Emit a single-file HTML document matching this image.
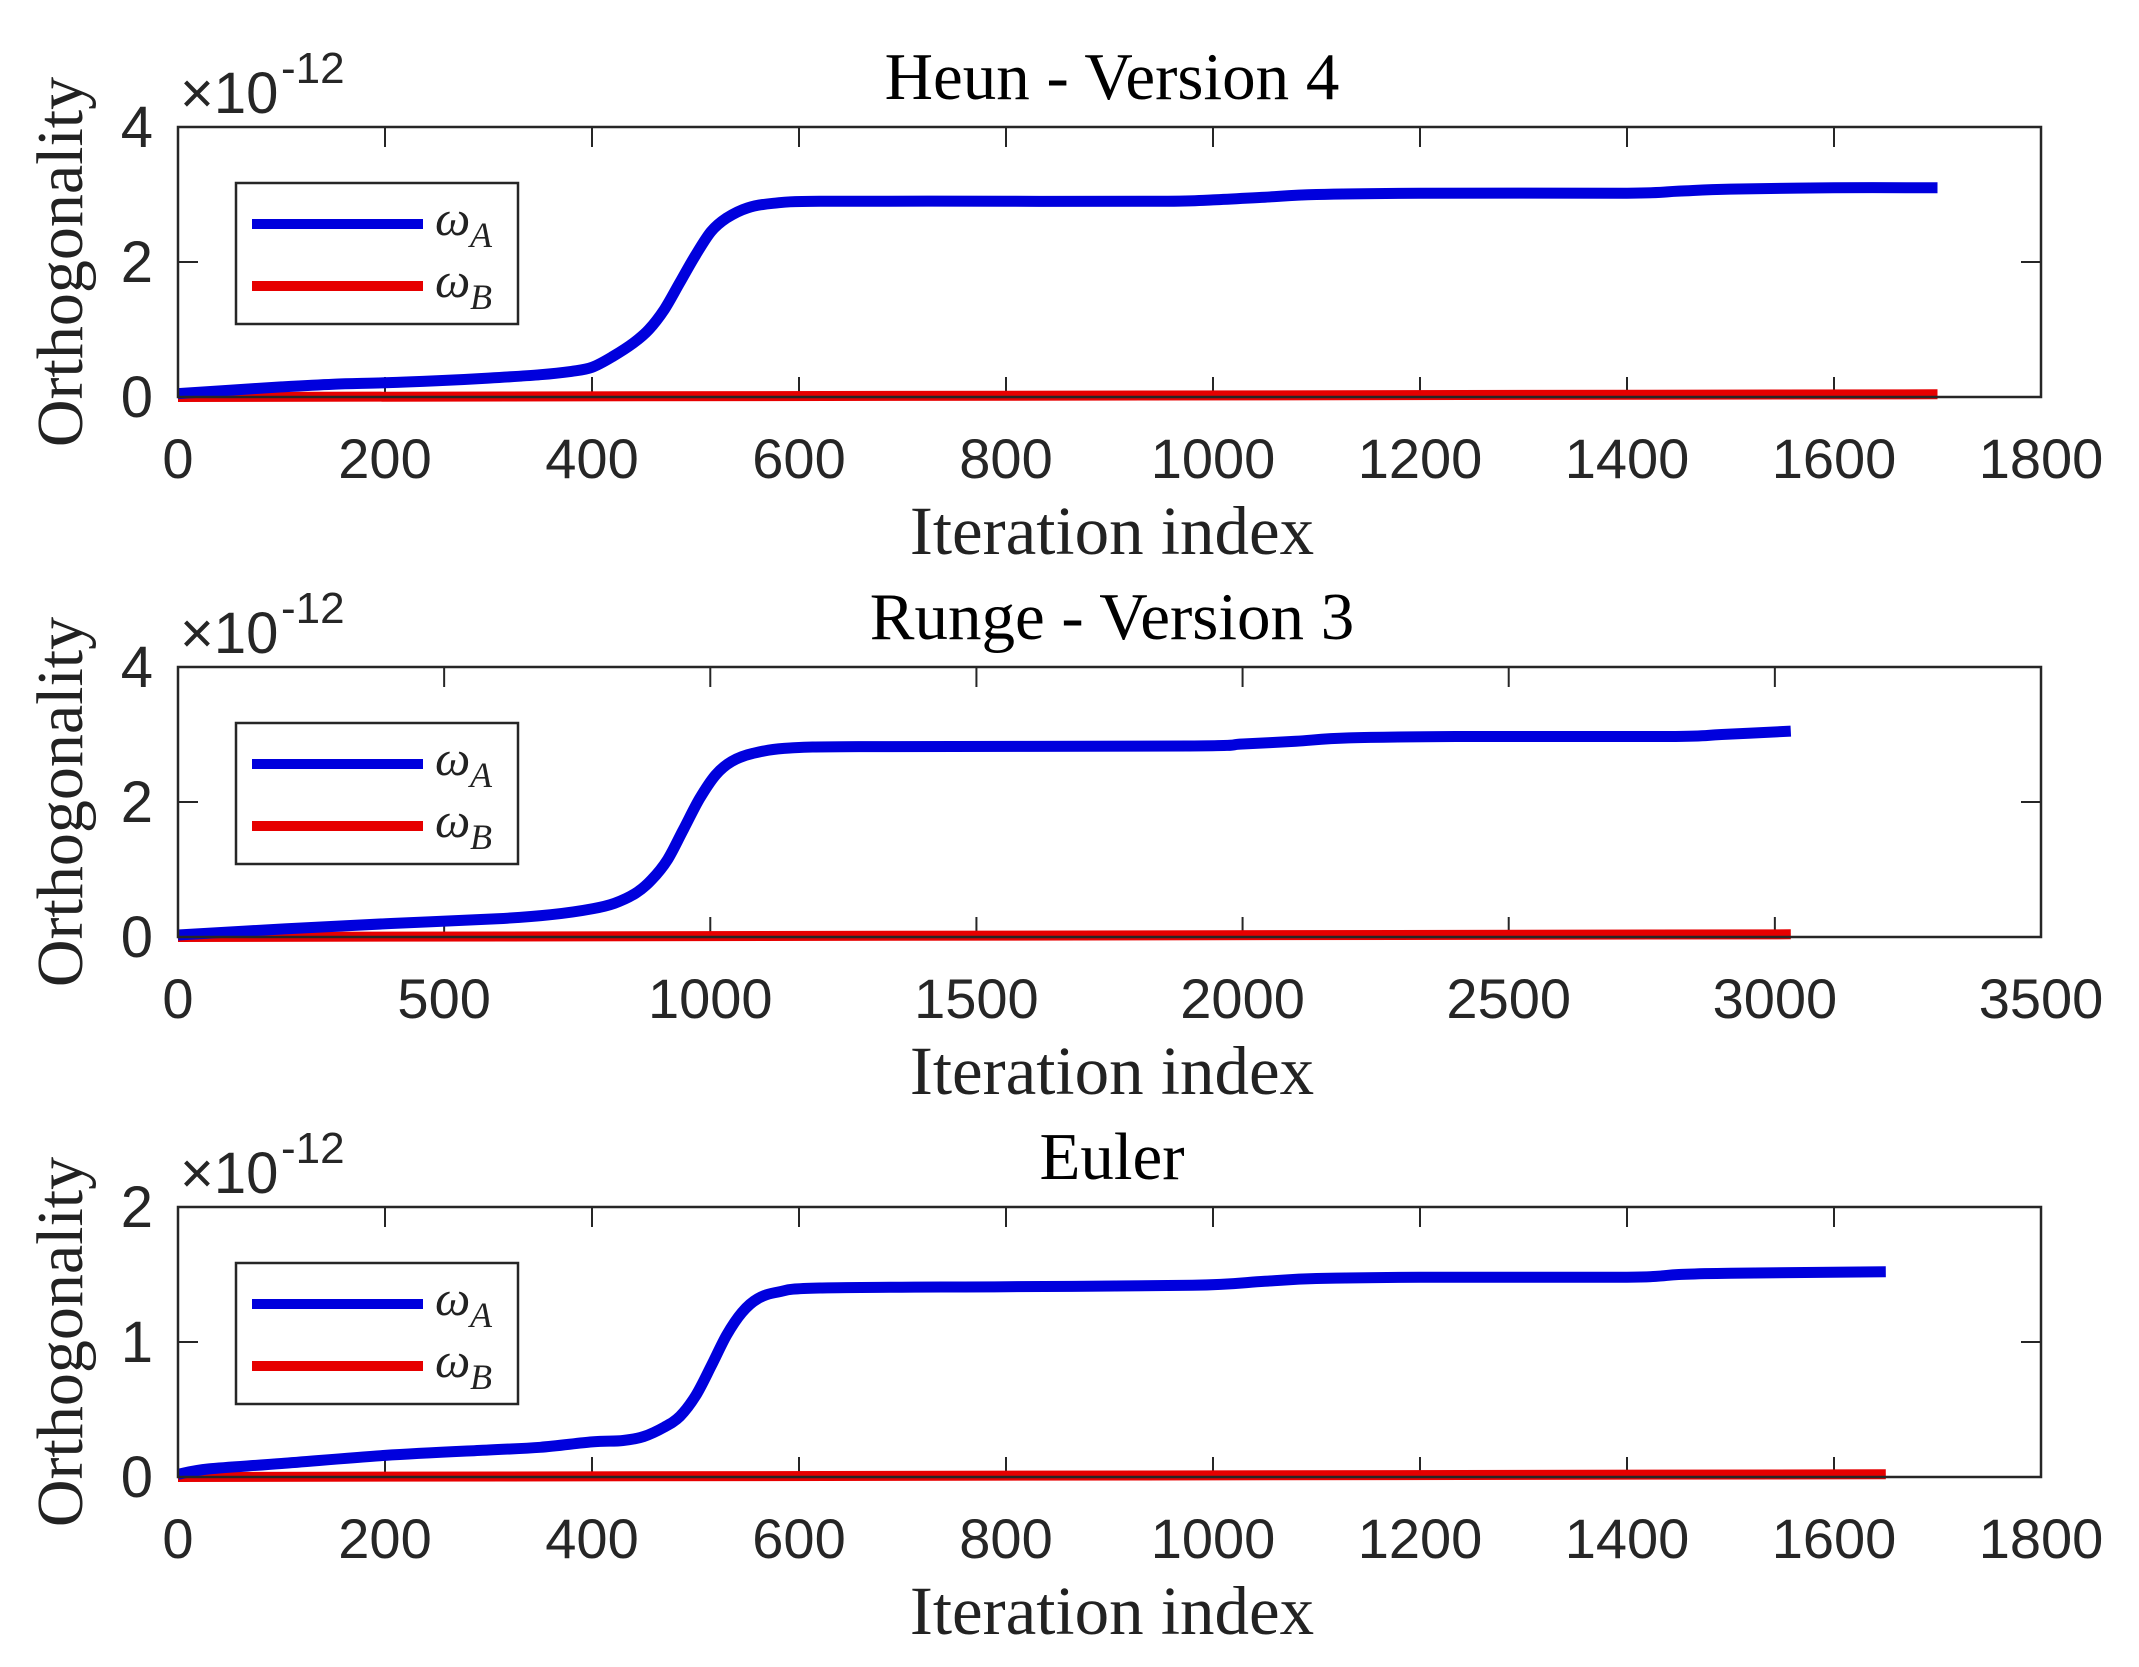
<!DOCTYPE html>
<html><head><meta charset="utf-8">
<style>
html,body{margin:0;padding:0;background:#fff;}
svg{display:block;}
</style></head>
<body>
<svg id="s" width="2139" height="1667" viewBox="0 0 2139 1667" xmlns="http://www.w3.org/2000/svg">
<rect width="2139" height="1667" fill="#fff"/>
</svg>
<script>
const NS="http://www.w3.org/2000/svg";
const svg=document.getElementById('s');
function el(t,a,txt){const e=document.createElementNS(NS,t);for(const k in a)e.setAttribute(k,a[k]);if(txt!==undefined)e.textContent=txt;svg.appendChild(e);return e;}
const L=178,R=2041;
const panels=[
 {top:127,title:"Heun - Version 4",xmax:1800,xstep:200,ymax:4,ystep:2,
  blue:[[0,0.05],[50,0.1],[100,0.15],[150,0.19],[200,0.21],[250,0.24],[300,0.28],[350,0.33],[380,0.38],[400,0.44],[420,0.6],[440,0.8],[455,1.0],[470,1.3],[485,1.7],[500,2.1],[515,2.45],[530,2.65],[550,2.8],[575,2.87],[620,2.9],[800,2.9],[950,2.9],[1000,2.92],[1050,2.96],[1100,3.0],[1200,3.02],[1400,3.02],[1450,3.05],[1500,3.08],[1600,3.1],[1700,3.1]],
  red:[[0,0.0],[1700,0.04]]},
 {top:667,title:"Runge - Version 3",xmax:3500,xstep:500,ymax:4,ystep:2,
  blue:[[0,0.03],[200,0.12],[400,0.2],[600,0.27],[700,0.33],[780,0.42],[820,0.5],[860,0.65],[890,0.85],[920,1.15],[950,1.6],[980,2.05],[1010,2.4],[1040,2.6],[1080,2.72],[1150,2.8],[1300,2.82],[1900,2.83],[2000,2.86],[2100,2.9],[2200,2.95],[2400,2.97],[2800,2.97],[2900,3.0],[3030,3.05]],
  red:[[0,0.0],[3030,0.04]]},
 {top:1207,title:"Euler",xmax:1800,xstep:200,ymax:2,ystep:1,
  blue:[[0,0.02],[30,0.06],[100,0.1],[200,0.16],[300,0.2],[350,0.22],[400,0.26],[430,0.27],[450,0.3],[470,0.37],[485,0.45],[500,0.6],[515,0.82],[530,1.05],[545,1.22],[560,1.32],[580,1.37],[620,1.4],[800,1.41],[980,1.42],[1050,1.45],[1100,1.47],[1200,1.48],[1400,1.48],[1450,1.5],[1500,1.51],[1650,1.52]],
  red:[[0,0.0],[1650,0.02]]}
];
const H=270;
function smooth(P){
 let d=`M${P[0][0].toFixed(1)},${P[0][1].toFixed(1)}`;
 for(let i=0;i<P.length-1;i++){
  const p0=P[i-1]||P[i],p1=P[i],p2=P[i+1],p3=P[i+2]||P[i+1];
  const c1=[p1[0]+(p2[0]-p0[0])/6,p1[1]+(p2[1]-p0[1])/6];
  const c2=[p2[0]-(p3[0]-p1[0])/6,p2[1]-(p3[1]-p1[1])/6];
  d+=` C${c1[0].toFixed(1)},${c1[1].toFixed(1)} ${c2[0].toFixed(1)},${c2[1].toFixed(1)} ${p2[0].toFixed(1)},${p2[1].toFixed(1)}`;
 }
 return d;
}
panels.forEach(p=>{
 const T=p.top,B=T+H;
 const X=v=>L+(R-L)*v/p.xmax, Y=v=>B-H*v/p.ymax;
 el('text',{x:1112,y:T-28,'text-anchor':'middle','font-family':'Liberation Serif, serif','font-size':67,fill:'#000'},p.title);
 el('text',{x:1112,y:B+157,'text-anchor':'middle','font-family':'Liberation Serif, serif','font-size':69,fill:'#222'},"Iteration index");
 el('text',{x:0,y:0,transform:`translate(82,${T+H/2}) rotate(-90)`,'text-anchor':'middle','font-family':'Liberation Serif, serif','font-size':66,fill:'#222'},"Orthogonality");
 el('text',{x:180,y:T-14,'font-family':'Liberation Sans, sans-serif','font-size':58,fill:'#262626'},"×10");
 el('text',{x:281,y:T-44,'font-family':'Liberation Sans, sans-serif','font-size':44,fill:'#262626'},"-12");
 for(let v=0;v<=p.xmax+1e-9;v+=p.xstep){
  const x=X(v);
  if(v>0&&v<p.xmax){
   el('line',{x1:x,y1:T,x2:x,y2:T+20,stroke:'#262626','stroke-width':2});
   el('line',{x1:x,y1:B,x2:x,y2:B-20,stroke:'#262626','stroke-width':2});
  }
  el('text',{x:x,y:B+81,'text-anchor':'middle','font-family':'Liberation Sans, sans-serif','font-size':56,fill:'#262626'},String(v));
 }
 for(let v=0;v<=p.ymax;v+=p.ystep){
  const y=Y(v);
  if(v>0&&v<p.ymax){
   el('line',{x1:L,y1:y,x2:L+20,y2:y,stroke:'#262626','stroke-width':2});
   el('line',{x1:R,y1:y,x2:R-20,y2:y,stroke:'#262626','stroke-width':2});
  }
  el('text',{x:153,y:y+20,'text-anchor':'end','font-family':'Liberation Sans, sans-serif','font-size':58,fill:'#262626'},String(v));
 }
 const pts=a=>a.map(q=>X(q[0]).toFixed(1)+','+Y(q[1]).toFixed(1)).join(' ');
 el('polyline',{points:pts(p.red),fill:'none',stroke:'#e60000','stroke-width':10});
 el('path',{d:smooth(p.blue.map(q=>[X(q[0]),Y(q[1])])),fill:'none',stroke:'#0000dd','stroke-width':11,'stroke-linejoin':'round'});
 el('rect',{x:L,y:T,width:R-L,height:H,fill:'none',stroke:'#262626','stroke-width':2.5});
 const lt=T+56;
 el('rect',{x:236,y:lt,width:282,height:141,fill:'#fff',stroke:'#262626','stroke-width':2.5});
 el('line',{x1:252,y1:lt+41,x2:423,y2:lt+41,stroke:'#0000dd','stroke-width':10});
 el('line',{x1:252,y1:lt+103,x2:423,y2:lt+103,stroke:'#e60000','stroke-width':10});
 el('text',{x:435,y:lt+52,'font-family':'Liberation Serif, serif','font-size':50,'font-style':'italic',fill:'#222'},"ω");
 el('text',{x:470,y:lt+64,'font-family':'Liberation Serif, serif','font-size':36,'font-style':'italic',fill:'#222'},"A");
 el('text',{x:435,y:lt+114,'font-family':'Liberation Serif, serif','font-size':50,'font-style':'italic',fill:'#222'},"ω");
 el('text',{x:470,y:lt+126,'font-family':'Liberation Serif, serif','font-size':36,'font-style':'italic',fill:'#222'},"B");
});
</script>
</body></html>
